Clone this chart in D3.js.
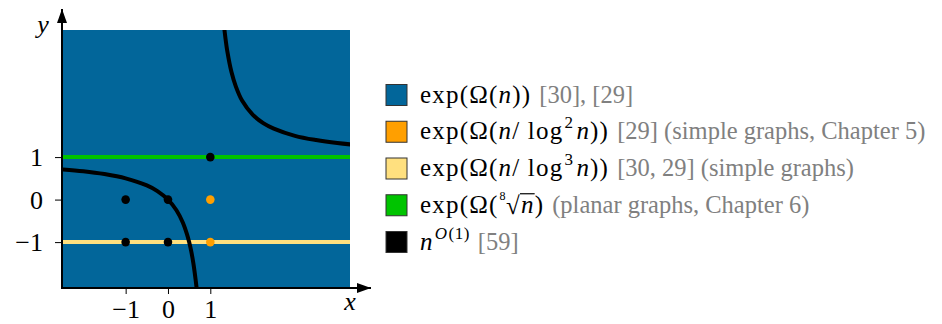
<!DOCTYPE html>
<html>
<head>
<meta charset="utf-8">
<script src="https://cdn.jsdelivr.net/npm/d3@7"></script>
<style>
  body { margin: 0; background: #fff; }
</style>
</head>
<body>
<svg width="942" height="324"></svg>
<script>
// chart data
const xDomain = [-2.48, 4.3]
const yDomain = [-2.08, 3.99]
const xTicks = [-1, 0, 1]
const yTicks = [-1, 0, 1]

// horizontal lines: y value and which legend entry they belong to
const lineLevels = [1, -1]
const lineKeys = ['root', 'log3']

// lattice points
const blackPoints = [[1, 1], [-1, 0], [0, 0], [-1, -1], [0, -1]]
const orangePoints = [[1, 0], [1, -1]]

// the black hyperbola, two branches
const lowerBranch = [
  [-2.6, 0.72], [-2, 0.667], [-1.5, 0.6], [-1, 0.5], [-0.5, 0.333], [-0.25, 0.2],
  [0, 0], [0.2, -0.25], [0.35, -0.54], [0.45, -0.82], [0.5, -1], [0.55, -1.22],
  [0.6, -1.5], [0.65, -1.86], [0.69, -2.2]
]
const upperBranch = [
  [1.31, 4.2], [1.36, 3.78], [1.4, 3.5], [1.5, 3], [1.6, 2.67], [1.75, 2.33],
  [2, 2], [2.25, 1.8], [2.5, 1.67], [3, 1.5], [3.5, 1.4], [4, 1.33], [4.4, 1.29]
]

// legend
const legendKeys = ['exp', 'log2', 'log3', 'root', 'poly']
const legendColors = ['#02669a', '#ff9f00', '#ffe07f', '#00c400', '#000000']
// math part of each entry as [text, kind] pieces
const legendMath = [
  [['exp(Ω(', 'r'], ['n', 'i'], ['))', 'r']],
  [['exp(Ω(', 'r'], ['n', 'i'], ['/ log', 'r'], ['2', 'sup'], [' ', 'r'], ['n', 'i'], ['))', 'r']],
  [['exp(Ω(', 'r'], ['n', 'i'], ['/ log', 'r'], ['3', 'sup'], [' ', 'r'], ['n', 'i'], ['))', 'r']],
  [['exp(Ω(', 'r'], ['8', 'idx'], ['√', 'rad'], ['n', 'bar'], [')', 'r']],
  [['n', 'i'], ['O', 'supi'], ['(1)', 'sup']]
]
const legendRefs = [
  '[30], [29]',
  '[29] (simple graphs, Chapter 5)',
  '[30, 29] (simple graphs)',
  '(planar graphs, Chapter 6)',
  '[59]'
]

const serif = '"Liberation Serif", "Times New Roman", serif'
const svg = d3.select('svg')

const plot = {left: 63, right: 350, top: 30, bottom: 288}

const x = d3.scaleLinear().domain(xDomain).range([plot.left, plot.right])
const y = d3.scaleLinear().domain(yDomain).range([plot.bottom, plot.top])
const color = d3.scaleOrdinal().domain(legendKeys).range(legendColors)

svg.append('defs').append('clipPath').attr('id', 'clip')
  .append('rect')
    .attr('x', plot.left).attr('y', plot.top)
    .attr('width', plot.right - plot.left).attr('height', plot.bottom - plot.top)

// background region
svg.append('rect')
  .attr('x', plot.left).attr('y', plot.top)
  .attr('width', plot.right - plot.left).attr('height', plot.bottom - plot.top)
  .attr('fill', color('exp'))

const g = svg.append('g').attr('clip-path', 'url(#clip)')

g.selectAll('.level').data(lineLevels)
  .enter().append('line')
    .attr('x1', plot.left).attr('x2', plot.right)
    .attr('y1', d => y(d)).attr('y2', d => y(d))
    .attr('stroke', (d, i) => color(lineKeys[i]))
    .attr('stroke-width', 4)

const line = d3.line().x(d => x(d[0])).y(d => y(d[1])).curve(d3.curveCatmullRom)
g.selectAll('.branch').data([lowerBranch, upperBranch])
  .enter().append('path')
    .attr('d', line)
    .attr('fill', 'none')
    .attr('stroke', '#000')
    .attr('stroke-width', 4)

g.selectAll('.bp').data(blackPoints)
  .enter().append('circle')
    .attr('cx', d => x(d[0])).attr('cy', d => y(d[1])).attr('r', 4.3)
    .attr('fill', '#000')
g.selectAll('.op').data(orangePoints)
  .enter().append('circle')
    .attr('cx', d => x(d[0])).attr('cy', d => y(d[1])).attr('r', 4.3)
    .attr('fill', color('log2'))

// axes with arrows
svg.append('defs').append('marker')
    .attr('id', 'arrow').attr('viewBox', '0 0 14 10')
    .attr('refX', 14).attr('refY', 5)
    .attr('markerWidth', 14).attr('markerHeight', 10)
    .attr('markerUnits', 'userSpaceOnUse')
    .attr('orient', 'auto')
  .append('path').attr('d', 'M0,0L14,5L0,10Z').attr('fill', '#000')

svg.append('line')
  .attr('x1', plot.left - 1).attr('y1', plot.bottom + 1)
  .attr('x2', plot.left - 1).attr('y2', 9)
  .attr('stroke', '#000').attr('stroke-width', 2)
  .attr('marker-end', 'url(#arrow)')
svg.append('line')
  .attr('x1', plot.left - 1).attr('y1', plot.bottom)
  .attr('x2', 371).attr('y2', plot.bottom)
  .attr('stroke', '#000').attr('stroke-width', 2)
  .attr('marker-end', 'url(#arrow)')

const fmt = d => d < 0 ? '−' + Math.abs(d) : String(d)

const xAxis = d3.axisBottom(x).tickValues(xTicks).tickFormat(fmt).tickSize(6).tickPadding(6)
const xg = svg.append('g').attr('transform', `translate(0,${plot.bottom})`).call(xAxis)
const yAxis = d3.axisLeft(y).tickValues(yTicks).tickFormat(fmt).tickSize(7).tickPadding(12)
const yg = svg.append('g').attr('transform', `translate(${plot.left - 1},0)`).call(yAxis)
for (const ax of [xg, yg]) {
  ax.attr('font-family', serif)
  ax.select('.domain').remove()
  ax.selectAll('.tick line').attr('stroke', '#000').attr('stroke-width', 1)
  ax.selectAll('.tick text')
    .attr('fill', '#000')
    .style('font-size', '26px')
    .style('font-family', serif)
}
yg.selectAll('.tick text').attr('dy', '0.34em')
xg.selectAll('.tick text').attr('dy', '0.68em')

svg.append('text').attr('x', 43).attr('y', 33)
  .attr('text-anchor', 'middle')
  .style('font-family', serif)
  .style('font-size', '26px').style('font-style', 'italic')
  .text('y')
svg.append('text').attr('x', 350).attr('y', 310)
  .attr('text-anchor', 'middle')
  .style('font-family', serif)
  .style('font-size', '26px').style('font-style', 'italic')
  .text('x')

// legend
const rowY = d3.scalePoint().domain(legendKeys).range([95, 242])
const fs = 25
const ls = 1.2

legendKeys.forEach((key, i) => {
  const cy = rowY(key)
  const row = svg.append('g').style('font-family', serif)
  row.append('rect')
    .attr('x', 386).attr('y', cy - 10.5)
    .attr('width', 21).attr('height', 21)
    .attr('fill', color(key))
    .attr('stroke', '#333').attr('stroke-width', 1)

  const base = cy + 7.5
  let cx = 420
  legendMath[i].forEach(([str, kind]) => {
    const t = row.append('text').attr('x', cx).attr('y', base).text(str)
      .style('font-family', serif)
      .style('letter-spacing', ls + 'px')
      .style('font-size', fs + 'px').attr('fill', '#000')
    if (kind === 'i' || kind === 'bar') t.style('font-style', 'italic')
    if (kind === 'sup' || kind === 'supi') {
      t.style('font-size', '17px').attr('y', base - 11).attr('x', cx + 1)
        .style('letter-spacing', '0.5px')
      if (kind === 'supi') t.style('font-style', 'italic')
    }
    if (kind === 'idx') t.style('font-size', '12px').attr('y', base - 13).attr('x', cx + 1)
      .style('letter-spacing', '0px')
    let w = t.node().getComputedTextLength()
    if (kind === 'idx') w += 1.5
    if (kind === 'rad') t.attr('y', base + 1)
    if (kind === 'bar') {
      row.append('line')
        .attr('x1', cx - 1).attr('x2', cx + w)
        .attr('y1', base - 19).attr('y2', base - 19)
        .attr('stroke', '#000').attr('stroke-width', 1.2)
    }
    if (kind === 'sup' || kind === 'supi') w += 1
    if (str === ' ') w += 3
    cx += w
  })
  row.append('text').attr('x', cx + 8).attr('y', base)
    .style('font-family', serif)
    .style('font-size', '24.5px').attr('fill', '#808080')
    .text(legendRefs[i])
})
</script>
</body>
</html>
